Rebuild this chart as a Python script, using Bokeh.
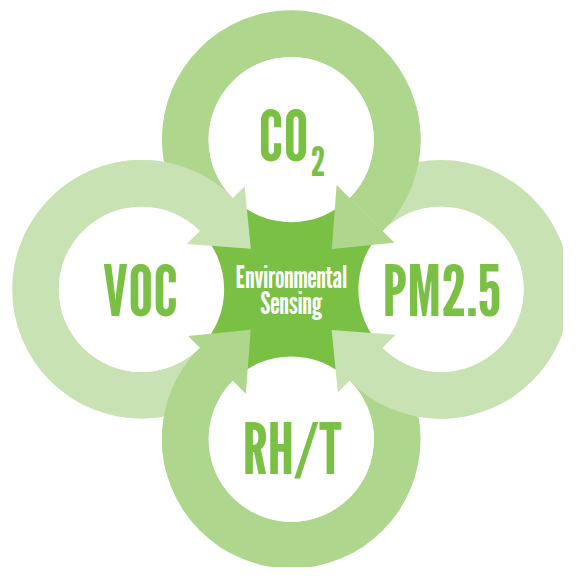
import math
from bokeh.plotting import figure
from bokeh.models import Range1d
from bokeh.core.properties import value
from bokeh.embed import file_html
from bokeh.resources import INLINE

# ---- diagram content ----
ring_names = ["CO2", "VOC", "RH/T", "PM2.5"]          # top, left, bottom, right
ring_dirs = [90, 180, 270, 0]                          # direction of each ring from centre (deg)
ring_colors = ["#AED68C", "#C8E2B4", "#AED68C", "#C8E2B4"]
label_main = ["CO", "VOC", "RH/T", "PM2.5"]
label_sub = ["2", "", "", ""]
center_lines = ["Environmental", "Sensing"]

STAR = "#79C044"
TEXT_GREEN = "#79C044"
FONT = value("League Gothic, Oswald, Roboto Condensed, sans-serif")

# geometry in picture units (y up)
W, H = 579, 583
CX, CY = 299, 286   # diagram centre
D = 154             # distance of ring centres from diagram centre
R_IN, R_OUT = 85, 133
ARROW_IN, ARROW_OUT, ARROW_LEN = 66, 150, 50
END_SPAN = 60       # degrees of ring end that overlap the next ring
S = 563 / 579       # screen scale of the picture

p = figure(width=563, height=567, output_backend="svg", toolbar_location=None,
           x_range=Range1d(0, W), y_range=Range1d(0, H), min_border=0)
p.axis.visible = False
p.grid.visible = False
p.outline_line_color = None
p.background_fill_color = "white"
p.border_fill_color = "white"

cx = [CX + D * math.cos(math.radians(t)) for t in ring_dirs]
cy = [CY + D * math.sin(math.radians(t)) for t in ring_dirs]
end_ang = [(t + 225) % 360 for t in ring_dirs]

# full ring arcs (270 deg, clockwise ending at the arrow)
p.annular_wedge(x=cx, y=cy, inner_radius=R_IN, outer_radius=R_OUT,
                start_angle=end_ang, end_angle=[a + 270 for a in end_ang],
                start_angle_units="deg", end_angle_units="deg",
                fill_color=ring_colors, line_color=None)
# ring ends drawn again so they lie over the start of the next ring
p.annular_wedge(x=cx, y=cy, inner_radius=R_IN, outer_radius=R_OUT,
                start_angle=end_ang, end_angle=[a + END_SPAN for a in end_ang],
                start_angle_units="deg", end_angle_units="deg",
                fill_color=ring_colors, line_color=None)

# central star
star_r = [97, 105] * 4
star_a = [90 + 45 * i for i in range(8)]
sx = [CX + r * math.cos(math.radians(a)) for r, a in zip(star_r, star_a)]
sy = [CY + r * math.sin(math.radians(a)) for r, a in zip(star_r, star_a)]
p.patch(sx, sy, fill_color=STAR, line_color=None)

# white holes
p.circle(x=cx, y=cy, radius=R_IN, fill_color="white", line_color=None)

# arrow heads
axs, ays = [], []
mid = (R_IN + R_OUT) / 2
for x0, y0, a in zip(cx, cy, end_ang):
    ar = math.radians(a)
    ux, uy = math.cos(ar), math.sin(ar)
    tx, ty = math.sin(ar), -math.cos(ar)
    axs.append([x0 + ARROW_IN * ux, x0 + ARROW_OUT * ux, x0 + mid * ux + ARROW_LEN * tx])
    ays.append([y0 + ARROW_IN * uy, y0 + ARROW_OUT * uy, y0 + mid * uy + ARROW_LEN * ty])
p.patches(axs, ays, fill_color=ring_colors, line_color=None)

# labels (y is the visual middle of the capitals)
lab_dx = [-8, -1, 1, 1]
lab_dy = [4.5, -0.5, -9, -0.5]
big = f"{round(72 * S)}px"
for x0, y0, m, s, dx, dy in zip(cx, cy, label_main, label_sub, lab_dx, lab_dy):
    p.text(x=[x0 + dx], y=[y0 + dy], text=[m], text_font=FONT, text_font_size=big,
           text_align="center", text_baseline="alphabetic", text_color=TEXT_GREEN)
    if s:
        p.text(x=[x0 + 27.5], y=[y0 + dy - 27], text=[s], text_font=FONT,
               text_font_size=f"{round(42 * S)}px", text_align="center",
               text_baseline="alphabetic", text_color=TEXT_GREEN)

p.text(x=[CX, CX], y=[CY + 13, CY - 14], text=center_lines, text_font=FONT,
       text_font_size=f"{round(31 * S)}px", text_align="center",
       text_baseline="alphabetic", text_color="white")

open("out.html", "w").write(file_html(p, INLINE))
